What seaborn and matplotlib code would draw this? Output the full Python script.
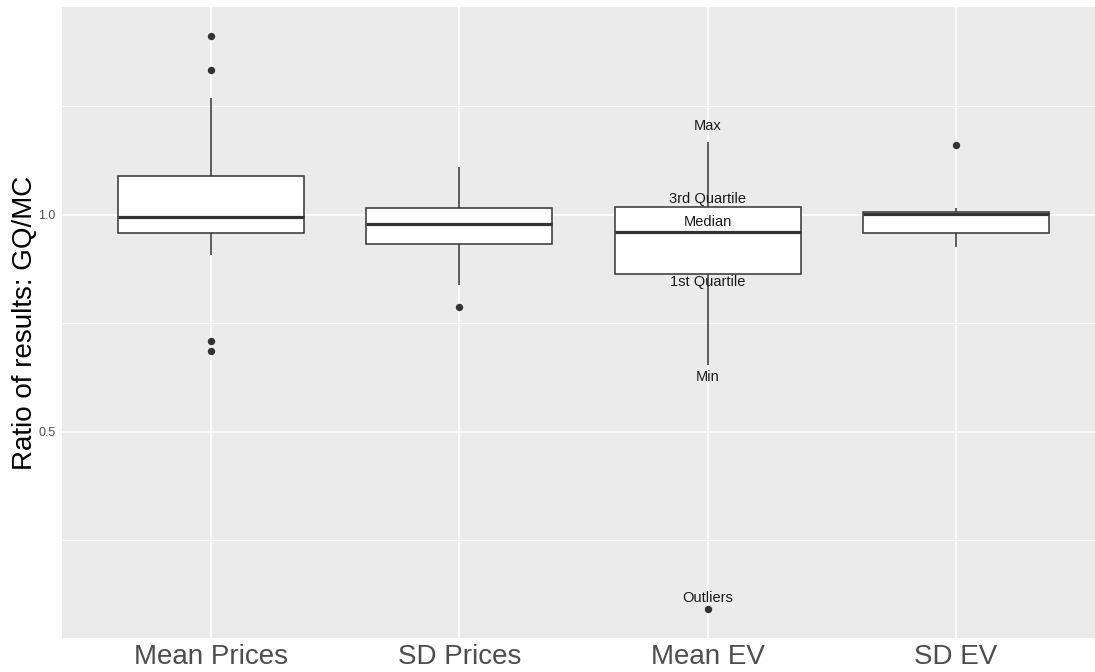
import numpy as np
import pandas as pd
import matplotlib
matplotlib.use("Agg")
import matplotlib.pyplot as plt
from matplotlib.ticker import FixedLocator
import seaborn as sns

# ---- data (box statistics per measure) ----
categories = ["Mean Prices", "SD Prices", "Mean EV", "SD EV"]
whisker_low = [0.908, 0.838, 0.654, 0.925]
q1_values = [0.958, 0.932, 0.865, 0.958]
median_values = [0.995, 0.979, 0.9615, 1.0023]
q3_values = [1.090, 1.0154, 1.018, 1.0067]
whisker_high = [1.270, 1.110, 1.1675, 1.017]
outliers_low = [[0.709, 0.687], [0.789], [0.0915], []]
outliers_high = [[1.335, 1.412], [], [], [1.161]]

annot_labels = ["Max", "3rd Quartile", "Median", "1st Quartile", "Min", "Outliers"]
annot_y = [1.205, 1.037, 0.984, 0.846, 0.627, 0.1175]
annot_category = "Mean EV"


def expand(lo_out, wlo, q1, med, q3, whi, hi_out):
    """Build a 41-value sample whose boxplot statistics equal the given ones."""
    L, H = len(lo_out), len(hi_out)
    vals = (sorted(lo_out) + [wlo] + [q1] * (15 - L) + [med] * 9
            + [q3] * (15 - H) + [whi] + sorted(hi_out))
    return vals


rows = []
for i, cat in enumerate(categories):
    for v in expand(outliers_low[i], whisker_low[i], q1_values[i], median_values[i],
                    q3_values[i], whisker_high[i], outliers_high[i]):
        rows.append((cat, v))
df = pd.DataFrame(rows, columns=["measure", "ratio"])

sns.set_theme(style="darkgrid", rc={
    "axes.facecolor": "#EBEBEB",
    "figure.facecolor": "white",
    "grid.color": "white",
    "axes.edgecolor": "#EBEBEB",
})
plt.rcParams["font.family"] = ["Liberation Sans", "DejaVu Sans"]

fig = plt.figure(figsize=(10.95, 6.72), dpi=100)
ax = fig.add_axes([62 / 1095, 1 - 638 / 672, 1 - 62 / 1095, (638 - 7) / 672])

sns.boxplot(
    data=df, x="measure", y="ratio", order=categories, ax=ax,
    width=0.75, color="white", saturation=1, linecolor="#333333", linewidth=1.1,
    showcaps=False, whis=1.5,
    flierprops=dict(marker="o", markersize=4.3, markerfacecolor="#333333",
                    markeredgecolor="#333333"),
    medianprops=dict(linewidth=2.3, color="#333333"),
    zorder=3,
)

ci = categories.index(annot_category)
for lab, y in zip(annot_labels, annot_y):
    ax.text(ci, y, lab, ha="center", va="center", fontsize=10.5, color="#1a1a1a", zorder=5)

ax.set_xlim(-0.6, 3.56)
ax.set_ylim(0.0253, 1.479)
ax.yaxis.set_major_locator(FixedLocator([0.5, 1.0]))
ax.yaxis.set_minor_locator(FixedLocator([0.25, 0.75, 1.25]))
ax.set_yticklabels(["0.5", "1.0"])
ax.grid(which="major", color="white", linewidth=1.2)
ax.grid(which="minor", axis="y", color="white", linewidth=0.6)
ax.xaxis.grid(True, which="major", color="white", linewidth=1.2)
ax.set_axisbelow(True)
for s in ax.spines.values():
    s.set_visible(False)

ax.tick_params(axis="x", which="major", length=2.5, width=0.8, color="#333333",
               labelsize=20, labelcolor="#4D4D4D", pad=2)
ax.tick_params(axis="y", which="major", length=2.5, width=0.8, color="#333333",
               labelsize=9, labelcolor="#4D4D4D", pad=2)
ax.tick_params(axis="y", which="minor", length=0)
ax.set_xlabel("")
ax.set_ylabel("Ratio of results: GQ/MC", fontsize=20, color="black", labelpad=0)

fig.savefig("out.png", dpi=100)
